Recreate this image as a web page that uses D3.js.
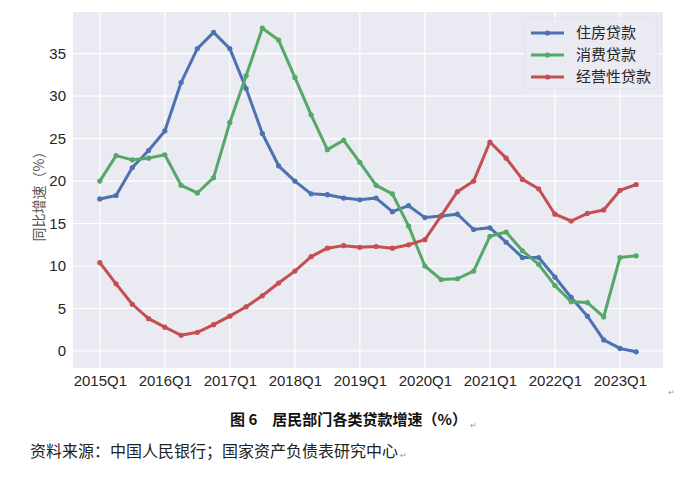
<!DOCTYPE html>
<html lang="zh">
<head>
  <meta charset="UTF-8">
  <title>居民部门各类贷款增速</title>
  <script src="https://d3js.org/d3.v7.min.js"></script>
  <style>
    body { margin: 0; background: #fff; }
    svg text { font-family: 'Liberation Sans', Arial, sans-serif; }
    .cjk { font-family: 'Noto Sans CJK SC', sans-serif; }
  </style>
</head>
<body>
  <div id="chart"></div>
  <script>
    // quarters 2015Q1 .. 2023Q2
    const quarters = [];
    for (let y = 2015; y <= 2023; y++) for (let q = 1; q <= 4; q++) quarters.push(y + "Q" + q);
    quarters.splice(34);
    const tickLabels = ["2015Q1", "2016Q1", "2017Q1", "2018Q1", "2019Q1", "2020Q1", "2021Q1", "2022Q1", "2023Q1"];
    const yTicks = [0, 5, 10, 15, 20, 25, 30, 35];

    const housing = [17.9, 18.3, 21.6, 23.6, 25.9, 31.6, 35.6, 37.5, 35.6, 30.9, 25.6, 21.8,
      20.0, 18.5, 18.4, 18.0, 17.8, 18.0, 16.4, 17.1, 15.7, 15.9, 16.1, 14.3,
      14.5, 12.8, 11.0, 11.0, 8.7, 6.3, 4.1, 1.3, 0.3, -0.1];
    const consumer = [20.0, 23.0, 22.5, 22.7, 23.1, 19.5, 18.6, 20.4, 26.9, 32.4, 38.0, 36.6,
      32.2, 27.8, 23.7, 24.8, 22.2, 19.5, 18.5, 14.7, 10.0, 8.4, 8.5, 9.4,
      13.5, 14.0, 11.8, 10.2, 7.7, 5.8, 5.7, 4.0, 11.0, 11.2];
    const business = [10.4, 7.9, 5.5, 3.8, 2.8, 1.85, 2.2, 3.1, 4.1, 5.2, 6.5, 8.0,
      9.4, 11.1, 12.1, 12.4, 12.2, 12.3, 12.1, 12.5, 13.1, 15.9, 18.75, 20.0,
      24.6, 22.7, 20.2, 19.1, 16.1, 15.3, 16.2, 16.6, 18.9, 19.6];

    const seriesNames = ["住房贷款", "消费贷款", "经营性贷款"];
    const colors = ["#4C72B0", "#55A868", "#C44E52"];
    const series = [housing, consumer, business];

    const W = 700, H = 484;
    const m = { left: 73, right: 663, top: 12, bottom: 368 };

    const svg = d3.select("#chart").append("svg")
      .attr("width", W).attr("height", H);

    // matplotlib-like 5% margins
    const n = quarters.length;
    const xPad = (n - 1) * 0.05;
    const x = d3.scaleLinear().domain([-xPad, n - 1 + xPad]).range([m.left, m.right]);
    const all = series.flat();
    const yMin = d3.min(all), yMax = d3.max(all);
    const yPad = (yMax - yMin) * 0.05;
    const y = d3.scaleLinear().domain([yMin - yPad, yMax + yPad]).range([m.bottom, m.top]);

    svg.append("rect")
      .attr("x", m.left).attr("y", m.top)
      .attr("width", m.right - m.left).attr("height", m.bottom - m.top)
      .attr("fill", "#EAEAF2");

    const grid = svg.append("g").attr("stroke", "#fff").attr("stroke-width", 1.2);
    grid.selectAll("line.h").data(yTicks).enter().append("line")
      .attr("x1", m.left).attr("x2", m.right)
      .attr("y1", d => y(d)).attr("y2", d => y(d));
    grid.selectAll("line.v").data(tickLabels).enter().append("line")
      .attr("y1", m.top).attr("y2", m.bottom)
      .attr("x1", d => x(quarters.indexOf(d))).attr("x2", d => x(quarters.indexOf(d)));

    // axes
    const yAxis = svg.append("g")
      .attr("transform", `translate(${m.left},0)`)
      .call(d3.axisLeft(y).tickValues(yTicks).tickSize(0).tickPadding(7));
    const xAxis = svg.append("g")
      .attr("transform", `translate(0,${m.bottom})`)
      .call(d3.axisBottom(x).tickValues(tickLabels.map(d => quarters.indexOf(d)))
        .tickFormat(i => quarters[i]).tickSize(0).tickPadding(7));
    [yAxis, xAxis].forEach(a => {
      a.select(".domain").remove();
      a.selectAll("text").attr("font-size", 15).attr("fill", "#262626")
        .attr("font-family", "'Liberation Sans', Arial, sans-serif");
    });

    svg.append("text").attr("class", "cjk")
      .attr("transform", `translate(44,193) rotate(-90)`)
      .attr("text-anchor", "middle")
      .attr("font-size", 14).attr("fill", "#555")
      .text("同比增速（%）");

    const line = d3.line().x((d, i) => x(i)).y(d => y(d));
    series.forEach((s, k) => {
      svg.append("path").datum(s)
        .attr("fill", "none").attr("stroke", colors[k])
        .attr("stroke-width", 3).attr("stroke-linejoin", "round")
        .attr("d", line);
      svg.append("g").selectAll("circle").data(s).enter().append("circle")
        .attr("cx", (d, i) => x(i)).attr("cy", d => y(d))
        .attr("r", 2.6).attr("fill", colors[k]);
    });

    // legend
    const lg = svg.append("g").attr("transform", "translate(525,18)");
    lg.append("rect").attr("width", 132).attr("height", 71).attr("rx", 3)
      .attr("fill", "#EAEAF2").attr("fill-opacity", 0.8).attr("stroke", "#e3e3ec");
    seriesNames.forEach((name, k) => {
      const g = lg.append("g").attr("transform", `translate(0,${15 + k * 22})`);
      g.append("line").attr("x1", 6).attr("x2", 39)
        .attr("stroke", colors[k]).attr("stroke-width", 3);
      g.append("circle").attr("cx", 22.5).attr("r", 2.6).attr("fill", colors[k]);
      g.append("text").attr("class", "cjk").attr("x", 51).attr("dy", "0.35em")
        .attr("font-size", 15).attr("fill", "#262626").text(name);
    });

    // caption
    svg.append("text").attr("class", "cjk")
      .attr("x", 230).attr("y", 425)
      .attr("font-size", 15).attr("font-weight", "bold").attr("fill", "#111")
      .attr("textLength", 237)
      .text("图 6　居民部门各类贷款增速（%）");
    svg.append("text").attr("class", "cjk")
      .attr("x", 30).attr("y", 457)
      .attr("font-size", 16).attr("fill", "#222")
      .text("资料来源：中国人民银行；国家资产负债表研究中心");
    [[668, 395], [470, 428], [400, 458]].forEach(p => {
      svg.append("text").attr("x", p[0]).attr("y", p[1])
        .attr("font-size", 8).attr("fill", "#999").text("↵");
    });
  </script>
</body>
</html>
